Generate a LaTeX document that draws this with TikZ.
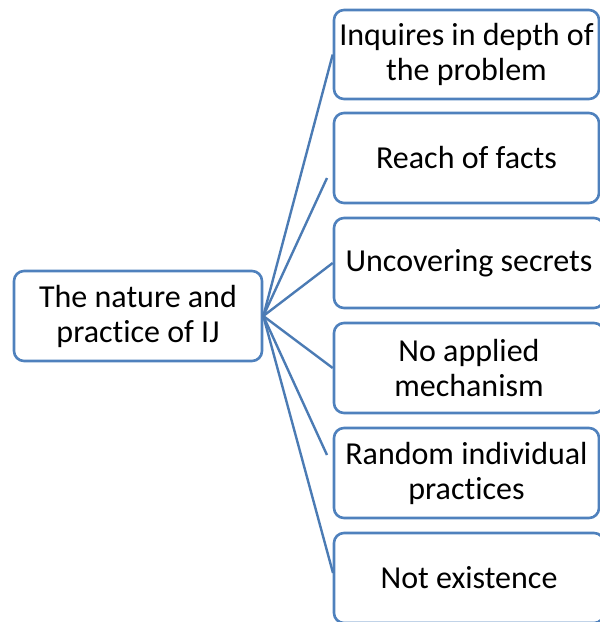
\documentclass[tikz,border=0pt]{standalone}
\usepackage{fontspec}
\setmainfont{Carlito}[Ligatures={NoCommon}]
\definecolor{officeblue}{HTML}{4F81BD}
\begin{document}
\begin{tikzpicture}[x=1pt,y=-1pt,
  box/.style={draw=officeblue, line width=2.6pt, rounded corners=10pt,
    align=center, inner sep=0pt, minimum height=90pt,
    font=\fontsize{32}{35}\selectfont},
  link/.style={draw=officeblue!95!black, line width=2.4pt}]
  \useasboundingbox (0,0) rectangle (600,622);
  \clip (0,0) rectangle (600,622);
  % root topic
  \node[box, minimum width=248pt] (root) at (138,316) {The nature and\\practice of IJ};
  % branch items
  \node[box, minimum width=265pt, minimum height=89pt] (b1) at (466.5,54.5) {Inquires in depth of\\the problem};
  \node[box, minimum width=265pt] (b2) at (466.5,158) {Reach of facts};
  \node[box, minimum width=270pt] (b3) at (469,263) {Uncovering secrets};
  \node[box, minimum width=270pt] (b4) at (469,368) {No applied\\mechanism};
  \node[box, minimum width=265pt] (b5) at (466.5,473) {Random individual\\practices};
  \node[box, minimum width=270pt] (b6) at (469,578) {Not existence};
  % loose ends of the two shorter spokes
  \coordinate (e2) at (327,178);
  \coordinate (e5) at (327,455);
  \coordinate (e6) at (333,573);
  % spokes
  \draw[link] (root.east) -- (b1.west);
  \draw[link] (root.east) -- (e2);
  \draw[link] (root.east) -- (b3.west);
  \draw[link] (root.east) -- (b4.west);
  \draw[link] (root.east) -- (e5);
  \draw[link] (root.east) -- (e6);
\end{tikzpicture}
\end{document}
